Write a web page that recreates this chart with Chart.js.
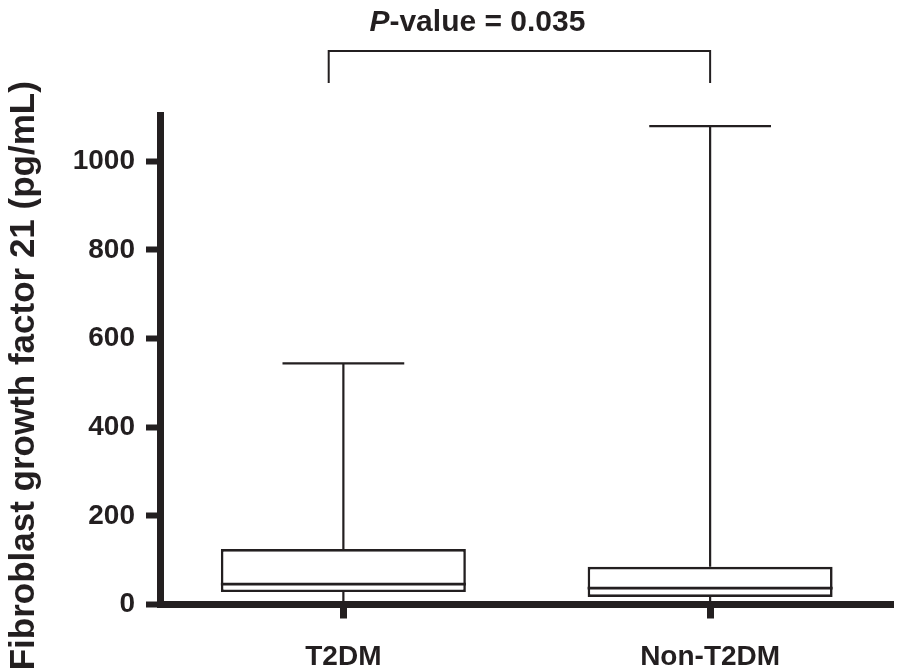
<!DOCTYPE html>
<html>
<head>
<meta charset="utf-8">
<script src="https://cdn.jsdelivr.net/npm/chart.js@4/dist/chart.umd.min.js"></script>
<style>
  html, body { margin: 0; padding: 0; background: #ffffff; }
  #wrap { width: 904px; height: 672px; position: relative; }
</style>
</head>
<body>
<div id="wrap"><canvas id="c"></canvas></div>
<script>
// ---- data ----
const categories = ["T2DM", "Non-T2DM"];
const q1Values     = [28, 17];
const medianValues = [46, 37];
const q3Values     = [125, 85];
const minValues    = [4, 2];
const maxValues    = [544, 1079];
const yTickValues  = [0, 200, 400, 600, 800, 1000];
const yAxisMax     = 1104;
const yTitle       = "Fibroblast growth factor 21 (pg/mL)";
const pItalic      = "P";
const pRest        = "-value = 0.035";
const bracketFrom  = -0.04;   // category-axis units
const bracketTo    = 1;

const INK = "#231f20";
const FAMILY = "'Liberation Sans', Arial, Helvetica, sans-serif";

const boxPlugin = {
  id: "boxParts",
  afterDatasetsDraw(chart) {
    const ctx = chart.ctx;
    const xs = chart.scales.x, ys = chart.scales.y;
    const meta = chart.getDatasetMeta(0);
    const catW = xs.getPixelForValue(1) - xs.getPixelForValue(0);
    ctx.save();
    ctx.strokeStyle = INK;
    ctx.lineCap = "butt";
    categories.forEach((c, i) => {
      const cx = xs.getPixelForValue(i);
      const bw = meta.data[i].width;
      const yMax = ys.getPixelForValue(maxValues[i]);
      const yMin = ys.getPixelForValue(minValues[i]);
      const yQ1 = ys.getPixelForValue(q1Values[i]);
      const yQ3 = ys.getPixelForValue(q3Values[i]);
      const yMed = ys.getPixelForValue(medianValues[i]);
      ctx.lineWidth = 2.2;
      ctx.beginPath();
      ctx.moveTo(cx, yQ3); ctx.lineTo(cx, yMax);
      ctx.moveTo(cx, yQ1); ctx.lineTo(cx, yMin);
      const capHalf = catW * 0.166;
      ctx.moveTo(cx - capHalf, yMax); ctx.lineTo(cx + capHalf, yMax);
      ctx.stroke();
      ctx.lineWidth = 2.6;
      ctx.beginPath();
      ctx.moveTo(cx - bw / 2, yMed); ctx.lineTo(cx + bw / 2, yMed);
      ctx.stroke();
    });
    ctx.restore();
  },
  afterDraw(chart) {
    const ctx = chart.ctx;
    const xs = chart.scales.x;
    const area = chart.chartArea;
    const top = area.top;
    const xL = xs.getPixelForValue(bracketFrom);
    const xR = xs.getPixelForValue(bracketTo);
    const yBar = top - 64;
    const yLeg = top - 32;
    ctx.save();
    ctx.strokeStyle = INK;
    ctx.lineWidth = 2;
    ctx.beginPath();
    ctx.moveTo(xL, yLeg); ctx.lineTo(xL, yBar); ctx.lineTo(xR, yBar); ctx.lineTo(xR, yLeg);
    ctx.stroke();
    // p-value text
    ctx.fillStyle = INK;
    ctx.textBaseline = "middle";
    ctx.textAlign = "left";
    const fI = "italic bold 30px " + FAMILY;
    const fB = "bold 30px " + FAMILY;
    ctx.font = fI; const wI = ctx.measureText(pItalic).width;
    ctx.font = fB; const wB = ctx.measureText(pRest).width;
    const cx = (xL + xR) / 2 - 42;
    const x0 = cx - (wI + wB) / 2;
    const ty = top - 92;
    ctx.font = fI; ctx.fillText(pItalic, x0, ty);
    ctx.font = fB; ctx.fillText(pRest, x0 + wI, ty);
    // y-axis title
    ctx.translate(24, (area.top + area.bottom) / 2 + 16);
    ctx.rotate(-Math.PI / 2);
    ctx.textAlign = "center";
    ctx.font = "bold 35px " + FAMILY;
    ctx.fillText(yTitle, 0, 0);
    ctx.restore();
  }
};

new Chart(document.getElementById("c"), {
  type: "bar",
  data: {
    labels: categories,
    datasets: [{
      data: q1Values.map((v, i) => [v, q3Values[i]]),
      backgroundColor: "#ffffff",
      borderColor: INK,
      borderWidth: 2.6,
      borderSkipped: false,
      barPercentage: 0.668,
      categoryPercentage: 1
    }]
  },
  options: {
    responsive: true,
    maintainAspectRatio: false,
    animation: false,
    devicePixelRatio: 1,
    layout: { padding: { top: 115, right: 10.5, left: 0, bottom: 0 } },
    plugins: { legend: { display: false }, tooltip: { enabled: false }, title: { display: false } },
    scales: {
      x: {
        type: "category",
        offset: true,
        grid: { offset: false, drawOnChartArea: false, tickLength: 14, tickWidth: 7, tickColor: INK, color: INK },
        border: { display: true, color: INK, width: 7 },
        ticks: { color: INK, padding: 22, font: { family: FAMILY, size: 28, weight: "bold" }, maxRotation: 0 },
        afterFit(scale) { scale.height = 67.5; }
      },
      y: {
        min: 0,
        max: yAxisMax,
        grid: { drawOnChartArea: false, tickLength: 14, tickWidth: 6, tickColor: INK, color: INK },
        border: { display: true, color: INK, width: 7 },
        ticks: {
          color: INK, padding: 11, stepSize: 200,
          font: { family: FAMILY, size: 28, weight: "bold" },
          callback: (v) => String(v)
        },
        afterBuildTicks(scale) { scale.ticks = yTickValues.map(v => ({ value: v })); },
        afterFit(scale) { scale.width = 160; }
      }
    }
  },
  plugins: [boxPlugin]
});
</script>
</body>
</html>
